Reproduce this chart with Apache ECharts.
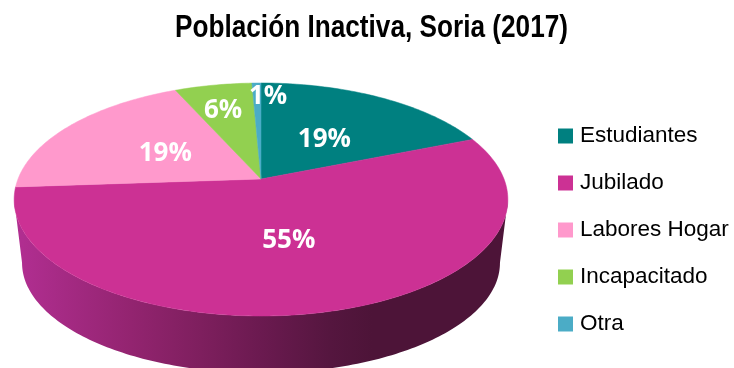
<!DOCTYPE html>
<html><head><meta charset="utf-8">
<style>html,body{margin:0;padding:0;background:#fff}#c{width:734px;height:368px}</style>
<script src="https://cdn.jsdelivr.net/npm/echarts@6/dist/echarts.min.js"></script>
</head><body><div id="c"></div>
<script>
const titleText = 'Población Inactiva, Soria (2017)';
const categories = ['Estudiantes', 'Jubilado', 'Labores Hogar', 'Incapacitado', 'Otra'];
const values = [18.9, 55, 19.4, 6, 0.7];
const colors = ['#008080', '#CC3194', '#FF99CC', '#92D050', '#4BACC6'];

// view geometry of the tilted disc
const CX = 261, CY = 179, RX = 243, RY = 112.9, K = 0.176;
const WALL_DX = 0.968, WALL_DY = 0.945, WALL_DROP = 64.6;
const LABEL_R = [0.5, 0.5, 0.5, 0.72, 0.85];
const LABEL_SHIFT_X = [0, -2, 4, -2, 11];
const LABEL_SHIFT_Y = [4, 1, 2, 2, 1];
const total = values.reduce((a, b) => a + b, 0);

function facePoint(deg, r) {
  const t = deg * Math.PI / 180, x = Math.sin(t) * r, y = -Math.cos(t) * r, w = 1 - K * y;
  return [CX + RX * x / w, CY + RY * y / w];
}
function basePoint(deg) {
  const p = facePoint(deg, 1);
  return [CX + (p[0] - CX) * WALL_DX, CY + WALL_DROP + (p[1] - CY) * WALL_DY];
}
function arc(fn, a, b) {
  const pts = [], n = Math.max(2, Math.ceil(Math.abs(b - a)));
  for (let i = 0; i <= n; i++) pts.push(fn(a + (b - a) * i / n));
  return pts;
}
const wallFill = {
  type: 'linear', global: true, x: 22, y: 0, x2: 372, y2: 0,
  colorStops: [
    { offset: 0, color: '#B02E90' }, { offset: 0.31, color: '#932470' },
    { offset: 0.51, color: '#7E1F5E' }, { offset: 0.68, color: '#6B1A50' },
    { offset: 0.88, color: '#55163F' }, { offset: 1, color: '#4D1438' }
  ]
};

function renderSlice(params, api) {
  const idx = params.seriesIndex, v = api.value(0), c = api.value(1);
  const a = c / total * 360, b = (c + v) / total * 360, mid = (a + b) / 2;
  const children = [];
  const wa = Math.max(a, 100), wb = Math.min(b, 260);
  if (wb > wa) {
    const t = arc(d => facePoint(d, 1), wa, wb), bt = arc(basePoint, wb, wa);
    children.push({ type: 'polygon', shape: { points: t.concat(bt) }, style: { fill: wallFill } });
  }
  const face = [[CX, CY]].concat(arc(d => facePoint(d, 1), a, b));
  children.push({ type: 'polygon', shape: { points: face }, style: { fill: colors[idx], stroke: colors[idx], lineWidth: 0.5 } });
  const lp = facePoint(mid, LABEL_R[idx]);
  children.push({ type: 'text', style: {
    text: Math.round(v) + '%', x: lp[0] + LABEL_SHIFT_X[idx], y: lp[1] + LABEL_SHIFT_Y[idx], fill: '#fff',
    font: 'bold 26px "Open Sans"', textAlign: 'center', textVerticalAlign: 'middle' } });
  return { type: 'group', children };
}

let cum = 0;
const series = categories.map((name, i) => {
  const d = [[values[i], cum]]; cum += values[i];
  return { type: 'custom', name, coordinateSystem: 'none', renderItem: renderSlice, data: d,
    itemStyle: { color: colors[i] }, animation: false, silent: true };
});

echarts.init(document.getElementById('c'), null, { renderer: 'canvas' }).setOption({
  animation: false,
  backgroundColor: '#fff',
  graphic: [{ type: 'text', x: 371.5, y: 28, scaleX: 0.845, silent: true,
    style: { text: titleText, fill: '#000', font: 'bold 31px "Liberation Sans"', textAlign: 'center', textVerticalAlign: 'middle' } }],
  legend: { data: categories, orient: 'vertical', left: 558, top: 124, icon: 'rect',
    itemWidth: 15, itemHeight: 15, itemGap: 23, padding: 0, selectedMode: false,
    textStyle: { fontFamily: '"Liberation Sans"', fontSize: 22.5, lineHeight: 24, color: '#000', padding: [0, 0, 0, 2] } },
  series
});
</script></body></html>
